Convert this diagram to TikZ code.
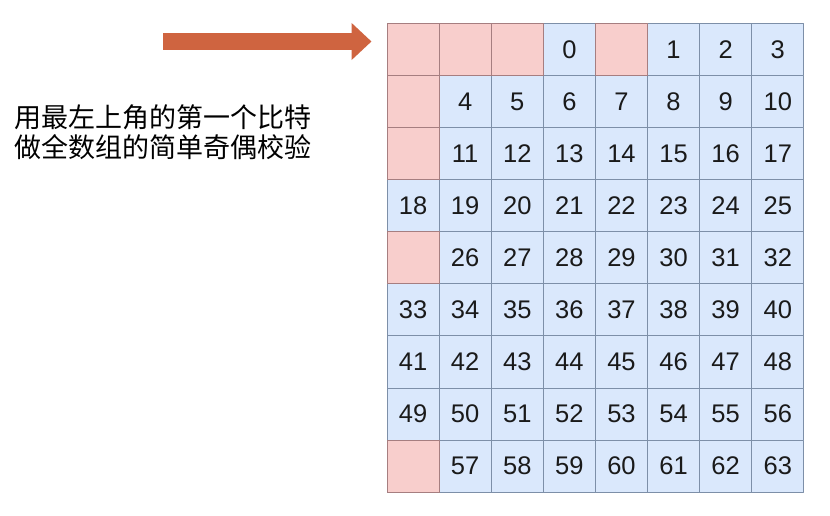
\documentclass[tikz,border=0pt]{standalone}
\usepackage{fontspec}
\setmainfont{Liberation Sans}
\newfontfamily\cjk{Noto Sans CJK SC}
\usetikzlibrary{arrows.meta}
\definecolor{cellblue}{HTML}{DAE8FC}
\definecolor{cellline}{HTML}{7D8FA8}
\definecolor{cellpink}{HTML}{F8CECC}
\definecolor{pinkline}{HTML}{A67E80}
\definecolor{arrowred}{HTML}{CF6440}
\definecolor{numtext}{HTML}{1A1A1A}
\begin{document}
\begin{tikzpicture}[x=1pt, y=-1pt, line join=round,
  cell/.style={draw=cellline, fill=cellblue, line width=1pt, minimum size=52.1pt, inner sep=0pt, font=\fontsize{25.5}{25.5}\selectfont, text=numtext},
  pinkcell/.style={cell, draw=pinkline, fill=cellpink},
  bigarrow/.style={-{Triangle[length=20pt,width=36pt]}, line width=17pt, draw=arrowred, fill=arrowred}]
  \useasboundingbox (0,0) rectangle (830,516);
  % the 8x9 grid, row by row
  \foreach \r/\row in {0/{{},{},{},0,{},1,2,3},
                       1/{{},4,5,6,7,8,9,10},
                       2/{{},11,12,13,14,15,16,17},
                       3/{18,19,20,21,22,23,24,25},
                       4/{{},26,27,28,29,30,31,32},
                       5/{33,34,35,36,37,38,39,40},
                       6/{41,42,43,44,45,46,47,48},
                       7/{49,50,51,52,53,54,55,56},
                       8/{{},57,58,59,60,61,62,63}}{
    \foreach \v [count=\c from 0] in \row
      \node[cell] (c-\r-\c) at ({413.05+52.1*\c},{49.35+52.1*\r}) {\v};
  }
  % parity bits
  \foreach \c/\r in {0/0,1/0,2/0,4/0,0/1,0/2,0/4,0/8}
    \node[pinkcell] (p-\r-\c) at (c-\r-\c) {};
  \node[font=\cjk\fontsize{27}{30}\selectfont, align=left, anchor=west, inner sep=0pt] (note) at (14,132)
    {用最左上角的第一个比特\\做全数组的简单奇偶校验};
  \coordinate (tail) at (163,41.5);
  \draw[bigarrow] (tail) -- ([xshift=-15pt]tail -| p-0-0.west);
\end{tikzpicture}
\end{document}
